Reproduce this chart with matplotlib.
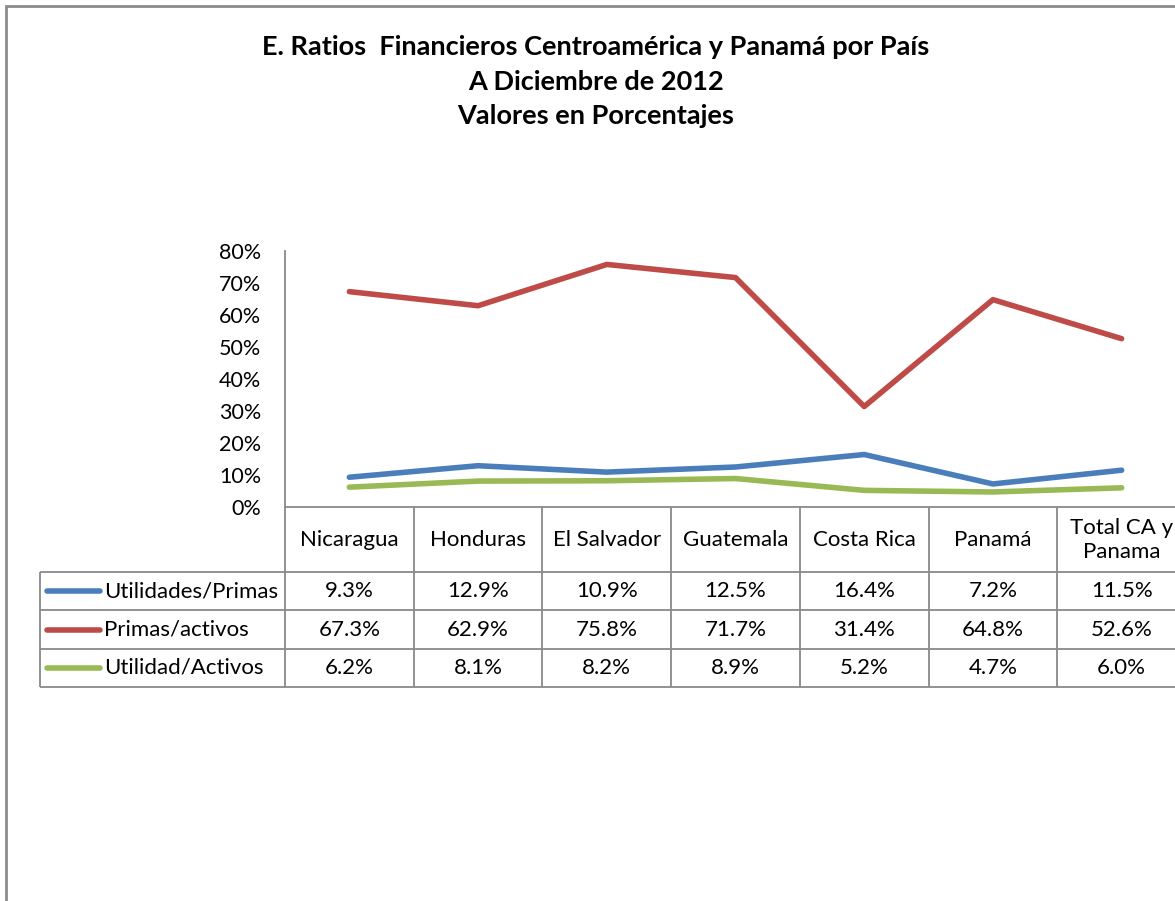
import matplotlib
matplotlib.use("Agg")
import matplotlib.pyplot as plt
from matplotlib.patches import Rectangle

plt.rcParams['font.family'] = ['Lato', 'DejaVu Sans']

# ---- data ----
categories = ["Nicaragua", "Honduras", "El Salvador", "Guatemala", "Costa Rica", "Panamá", "Total CA y\nPanama"]
series_names = ["Utilidades/Primas", "Primas/activos", "Utilidad/Activos"]
utilidades_primas = [9.3, 12.9, 10.9, 12.5, 16.4, 7.2, 11.5]
primas_activos = [67.3, 62.9, 75.8, 71.7, 31.4, 64.8, 52.6]
utilidad_activos = [6.2, 8.1, 8.2, 8.9, 5.2, 4.7, 6.0]
series_values = [utilidades_primas, primas_activos, utilidad_activos]
colors = ["#4A7EBB", "#BE4B48", "#98B954"]
y_ticks = [0, 10, 20, 30, 40, 50, 60, 70, 80]
y_tick_labels = ["0%", "10%", "20%", "30%", "40%", "50%", "60%", "70%", "80%"]
title_lines = ["E. Ratios  Financieros Centroamérica y Panamá por País",
               "A Diciembre de 2012",
               "Valores en Porcentajes"]

W, H = 1175, 901
fig = plt.figure(figsize=(W / 100, H / 100), dpi=100)

def fx(px):
    return px / W

def fy(py):
    return 1 - py / H

grid_col = "#898989"

# outer chart border
fig.patches.append(Rectangle((fx(6), fy(1000)), fx(1300), fy(6) - fy(1000),
                             transform=fig.transFigure, fill=False,
                             edgecolor="#8c8c8c", linewidth=2.0))

# title
for i, t in enumerate(title_lines):
    fig.text(fx(596), fy(47 + i * 34.5), t, ha="center", va="center",
             fontsize=19.5, fontweight="bold", color="black")

# plot area
x_left, x_right = 285, 1186
y_top, y_bot = 251, 507
ax = fig.add_axes([fx(x_left), fy(y_bot), fx(x_right - x_left), fy(y_top) - fy(y_bot)])
n = len(categories)
xs = list(range(n))
for vals, c in zip(series_values, colors):
    ax.plot(xs, vals, color=c, linewidth=4.0, solid_capstyle="round",
            solid_joinstyle="round", clip_on=False)
ax.set_xlim(-0.5, n - 0.5)
ax.set_ylim(0, 80)
ax.set_yticks(y_ticks)
ax.set_yticklabels(y_tick_labels, fontsize=15.5)
ax.tick_params(axis="y", length=0, pad=17)
ax.set_xticks([])
for s in ["top", "right"]:
    ax.spines[s].set_visible(False)
ax.spines["left"].set_color(grid_col)
ax.spines["left"].set_linewidth(1.3)
ax.spines["bottom"].set_visible(False)
ax.patch.set_alpha(0)

# data table
col_w = (x_right - x_left) / n
lab_w = (x_left - 40) / col_w
tab = fig.add_axes([fx(40), fy(687), fx(x_right - 40), fy(507) - fy(687)])
tab.set_xlim(-0.5 - lab_w, n - 0.5)
tab.set_ylim(180, 0)
tab.axis("off")
header_h = 65
row_h = (180 - header_h) / 3
lkw = dict(color=grid_col, linewidth=1.3, clip_on=False)
tab.hlines(0, -0.5, n - 0.5, **lkw)
for r in range(4):
    tab.hlines(header_h + r * row_h, -0.5 - lab_w, n - 0.5, **lkw)
for k in range(n + 1):
    tab.vlines(k - 0.5, 0, 180, **lkw)
tab.vlines(-0.5 - lab_w, header_h, 180, **lkw)

fs = 16
for i, cat in enumerate(categories):
    tab.text(i, header_h / 2, cat, ha="center", va="center", fontsize=fs,
             linespacing=1.25)
for r, (name, vals, c) in enumerate(zip(series_names, series_values, colors)):
    yc = header_h + (r + 0.5) * row_h
    x0 = -0.5 - lab_w
    tab.plot([x0 + 7 / col_w, x0 + 60 / col_w], [yc, yc], color=c, linewidth=4.0,
             solid_capstyle="round", clip_on=False)
    tab.text(x0 + 64 / col_w, yc, name, ha="left", va="center", fontsize=fs)
    for i, v in enumerate(vals):
        tab.text(i, yc, f"{v:.1f}%", ha="center", va="center", fontsize=fs)

fig.savefig("out.png", dpi=100)
